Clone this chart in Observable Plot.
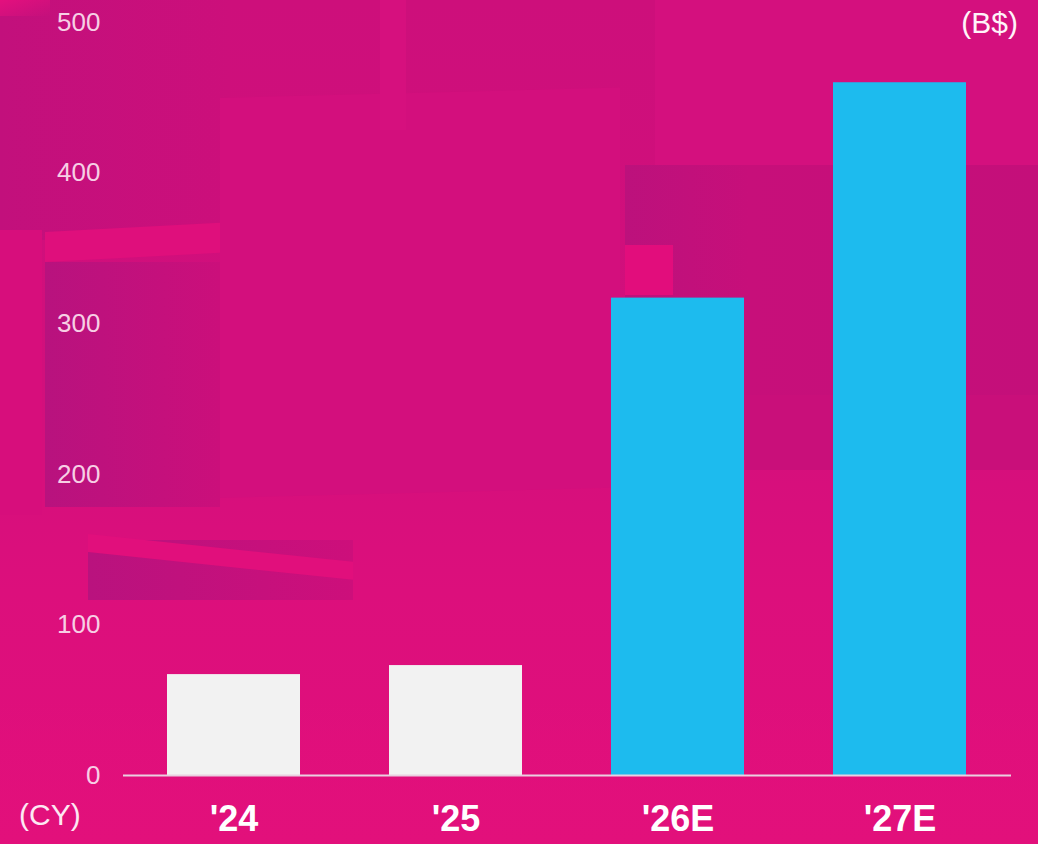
<!DOCTYPE html>
<html>
<head>
<meta charset="utf-8">
<script src="https://cdn.jsdelivr.net/npm/d3@7"></script>
<script src="https://cdn.jsdelivr.net/npm/@observablehq/plot@0.6"></script>
<style>
  html, body { margin: 0; padding: 0; }
  body { width: 1038px; height: 844px; overflow: hidden; font-family: "Liberation Sans", Arial, sans-serif; }
  #wrap { position: relative; width: 1038px; height: 844px; background: #d40f7e; overflow: hidden; }
  .bg { position: absolute; }
  #chart { position: absolute; left: 0; top: 0; }
  .note { position: absolute; color: #fde8f3; font-size: 30px; line-height: 1; }
</style>
</head>
<body>
<div id="wrap">
  <!-- decorative background shapes -->
  <div class="bg" style="left:0;top:0;width:1038px;height:844px;background:linear-gradient(180deg,#cd0f7b 0%,#d20f7c 45%,#dc0f7c 70%,#e10f7b 100%);"></div>
  <div class="bg" style="left:0;top:0;width:230px;height:240px;background:linear-gradient(90deg,#c2107c,#cc0f7b);"></div>
  <div class="bg" style="left:0;top:0;width:50px;height:16px;background:linear-gradient(160deg,#e4107e,rgba(228,16,126,0));"></div>
  <div class="bg" style="left:0;top:230px;width:42px;height:285px;background:#d70e7c;"></div>
  <div class="bg" style="left:45px;top:262px;width:175px;height:245px;background:linear-gradient(90deg,#b8127e,#cb0f7b);"></div>
  <div class="bg" style="left:45px;top:232px;width:175px;height:30px;background:#df0f7c;transform:skewY(-3deg);transform-origin:left top;"></div>
  <div class="bg" style="left:220px;top:98px;width:400px;height:400px;background:#d30f7d;transform:skewY(-1.5deg);transform-origin:left top;"></div>
  <div class="bg" style="left:380px;top:0;width:26px;height:130px;background:#d6107e;"></div>
  <div class="bg" style="left:88px;top:540px;width:265px;height:60px;background:linear-gradient(90deg,#b9127e,#cd0f7b);"></div>
  <div class="bg" style="left:88px;top:534px;width:265px;height:18px;background:#e10f7c;transform:skewY(6deg);transform-origin:left top;"></div>
  <div class="bg" style="left:655px;top:0;width:383px;height:165px;background:#d4107e;"></div>
  <div class="bg" style="left:625px;top:165px;width:413px;height:295px;background:linear-gradient(90deg,#bc117c,#c70f7a 30%,#c40f7a);"></div>
  <div class="bg" style="left:625px;top:245px;width:48px;height:50px;background:#e20d7c;"></div>
  <div class="bg" style="left:745px;top:395px;width:293px;height:75px;background:#c90f7a;"></div>
  <div class="bg" style="left:0;top:700px;width:1038px;height:144px;background:linear-gradient(180deg,rgba(224,16,124,0),#e2107b);"></div>
  <div id="chart"></div>
  <div class="note" style="left:19px;top:800px;">(CY)</div>
  <div class="note" style="right:20px;top:8px;font-size:30px;color:#fff3f9;">(B$)</div>
</div>
<script>
const years = ["'24", "'25", "'26E", "'27E"];
const values = [67, 73, 317, 460];
const barColors = ["#f2f2f2", "#f2f2f2", "#1dbbee", "#1dbbee"];
const yTicks = [0, 100, 200, 300, 400, 500];

const data = years.map((y, i) => ({year: y, value: values[i], color: barColors[i]}));

const chart = Plot.plot({
  width: 1038,
  height: 844,
  marginTop: 22,
  marginBottom: 69,
  marginLeft: 123,
  marginRight: 27,
  style: {background: "transparent", fontFamily: "'Liberation Sans', Arial, sans-serif", overflow: "visible"},
  x: {type: "band", domain: years, paddingInner: 0.4, paddingOuter: 0.2},
  y: {domain: [0, 500]},
  marks: [
    Plot.barY(data, {x: "year", y: "value", fill: "color"}),
    Plot.ruleY([0], {stroke: "#ead0e0", strokeWidth: 2}),
    Plot.axisY({ticks: yTicks, tickSize: 0, tickPadding: 23, fontSize: 26, fill: "#f7cfe5", label: null}),
    Plot.axisX({tickSize: 0, tickPadding: 30, fontSize: 36, fontWeight: "bold", fill: "#ffffff", label: null})
  ]
});
document.getElementById("chart").appendChild(chart);
</script>
</body>
</html>
